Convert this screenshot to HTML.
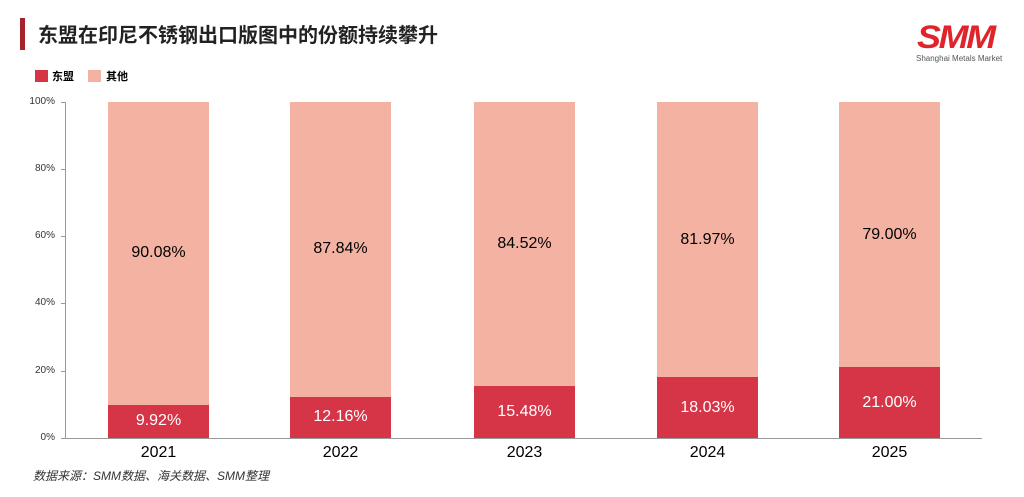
<!DOCTYPE html>
<html><head><meta charset="utf-8"><style>
body{margin:0;width:1024px;height:497px;background:#fff;position:relative;overflow:hidden;font-family:"Liberation Sans","Noto Sans CJK SC",sans-serif}
.a{position:absolute}
.bar{position:absolute;width:101px}
.p{background:#F4B3A2}.r{background:#D63447}
.lbl{position:absolute;width:101px;text-align:center;font-size:16px}
.yl{position:absolute;left:0;width:55px;text-align:right;font-size:10px;color:#333}
.xl{position:absolute;width:101px;text-align:center;font-size:16px;top:444px;color:#000}
</style></head><body>
<div class="a" style="left:20px;top:18px;width:5px;height:32px;background:#A8222C"></div>
<div class="a" style="left:38px;top:20px;font-size:20px;font-weight:bold;color:#222;font-family:'Noto Sans CJK SC',sans-serif;line-height:28px">东盟在印尼不锈钢出口版图中的份额持续攀升</div>
<div class="a" style="left:917px;top:22px;font-size:32px;font-weight:bold;font-style:italic;color:#E0242B;letter-spacing:-2px;line-height:30px;font-family:'Liberation Sans',sans-serif;transform:scaleX(1.12);transform-origin:left">SMM</div>
<div class="a" style="left:916px;top:54px;font-size:8px;color:#555;white-space:nowrap">Shanghai Metals Market</div>
<div class="a r" style="left:35px;top:70px;width:13px;height:12px"></div>
<div class="a" style="left:52px;top:68px;font-size:11px;font-weight:bold">东盟</div>
<div class="a p" style="left:88px;top:70px;width:13px;height:12px"></div>
<div class="a" style="left:106px;top:68px;font-size:11px;font-weight:bold">其他</div>
<div class="yl" style="top:96px">100%</div>
<div class="yl" style="top:163px">80%</div>
<div class="yl" style="top:230px">60%</div>
<div class="yl" style="top:297px">40%</div>
<div class="yl" style="top:365px">20%</div>
<div class="yl" style="top:432px">0%</div>
<div class="a" style="left:65px;top:102px;width:1px;height:337px;background:#999"></div>
<div class="a" style="left:61px;top:102px;width:4px;height:1px;background:#999"></div>
<div class="a" style="left:61px;top:169px;width:4px;height:1px;background:#999"></div>
<div class="a" style="left:61px;top:236px;width:4px;height:1px;background:#999"></div>
<div class="a" style="left:61px;top:303px;width:4px;height:1px;background:#999"></div>
<div class="a" style="left:61px;top:371px;width:4px;height:1px;background:#999"></div>
<div class="a" style="left:61px;top:438px;width:4px;height:1px;background:#999"></div>

<div class="bar p" style="left:108px;top:102px;height:303px"></div>
<div class="bar r" style="left:108px;top:405px;height:33px"></div>
<div class="lbl" style="left:108px;top:244px">90.08%</div>
<div class="lbl" style="left:108px;top:412px;color:#fff">9.92%</div>

<div class="bar p" style="left:290px;top:102px;height:295px"></div>
<div class="bar r" style="left:290px;top:397px;height:41px"></div>
<div class="lbl" style="left:290px;top:240px">87.84%</div>
<div class="lbl" style="left:290px;top:408px;color:#fff">12.16%</div>

<div class="bar p" style="left:474px;top:102px;height:284px"></div>
<div class="bar r" style="left:474px;top:386px;height:52px"></div>
<div class="lbl" style="left:474px;top:235px">84.52%</div>
<div class="lbl" style="left:474px;top:403px;color:#fff">15.48%</div>

<div class="bar p" style="left:657px;top:102px;height:275px"></div>
<div class="bar r" style="left:657px;top:377px;height:61px"></div>
<div class="lbl" style="left:657px;top:231px">81.97%</div>
<div class="lbl" style="left:657px;top:399px;color:#fff">18.03%</div>

<div class="bar p" style="left:839px;top:102px;height:265px"></div>
<div class="bar r" style="left:839px;top:367px;height:71px"></div>
<div class="lbl" style="left:839px;top:226px">79.00%</div>
<div class="lbl" style="left:839px;top:394px;color:#fff">21.00%</div>

<div class="a" style="left:65px;top:438px;width:917px;height:1px;background:#999"></div>
<div class="xl" style="left:108px">2021</div>
<div class="xl" style="left:290px">2022</div>
<div class="xl" style="left:474px">2023</div>
<div class="xl" style="left:657px">2024</div>
<div class="xl" style="left:839px">2025</div>
<div class="a" style="left:33px;top:467px;font-size:12px;font-style:italic;color:#333">数据来源：SMM数据、海关数据、SMM整理</div>
</body></html>
